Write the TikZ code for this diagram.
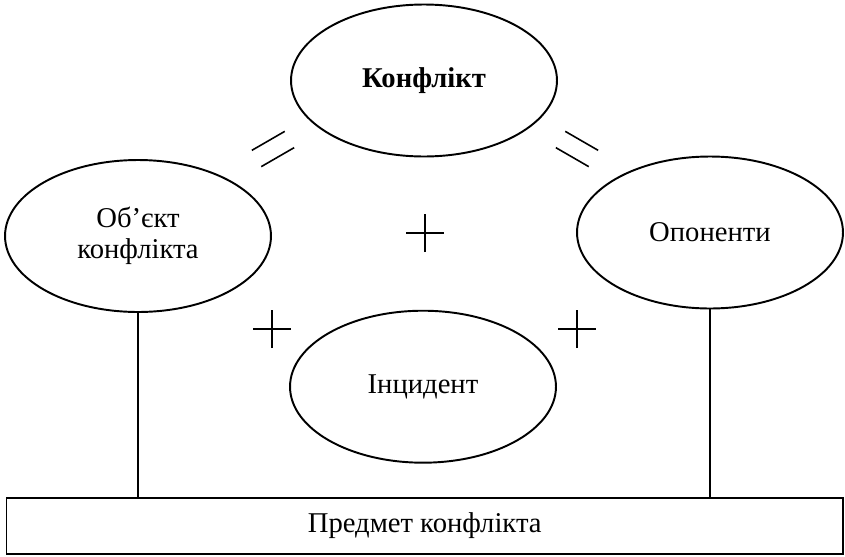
\documentclass[tikz,border=0pt]{standalone}
\usepackage{fontspec}
\setmainfont{Liberation Serif}
\usetikzlibrary{shapes.geometric}

\begin{document}
\begin{tikzpicture}[x=0.02cm, y=0.02cm,
    every node/.style={font=\fontsize{16.3}{17.5}\selectfont},
    oval/.style={ellipse, draw, line width=1.1pt, inner sep=0pt,
      minimum width=5.32cm, minimum height=3.04cm, align=center},
    sign/.style={line width=0.9pt},
  ]
  \useasboundingbox (0,0) rectangle (845,556);

  \node[oval, font=\fontsize{16.3}{17.5}\selectfont\bfseries] (konflikt) at (424,475.5) {Конфлікт};
  \node[oval] (obiekt) at (138,320) {Об'єкт\\конфлікта};
  \node[oval] (oponenty) at (710,323.5) {Опоненти};
  \node[oval] (incydent) at (423,169.3) {Інцидент};
  \node[draw, line width=1.1pt, inner sep=0pt,
    minimum width=16.73cm, minimum height=1.12cm] (predmet) at (424.7,30) {Предмет конфлікта};

  \draw[line width=1pt] (obiekt.south) -- (obiekt.south |- predmet.north);
  \draw[line width=1pt] (oponenty.south) -- (oponenty.south |- predmet.north);

  % plus signs
  \foreach \x/\y in {425/323, 272/227, 577/227}
    \draw[sign] (\x-19,\y) -- (\x+19,\y) (\x,\y-19) -- (\x,\y+19);

  % equality signs
  \foreach \x/\y/\a in {273/407/30, 577/407/-30}
    \draw[sign, shift={(\x,\y)}, rotate=\a] (-19,-9.4) -- (19,-9.4) (-19,9.4) -- (19,9.4);

\end{tikzpicture}
\end{document}
